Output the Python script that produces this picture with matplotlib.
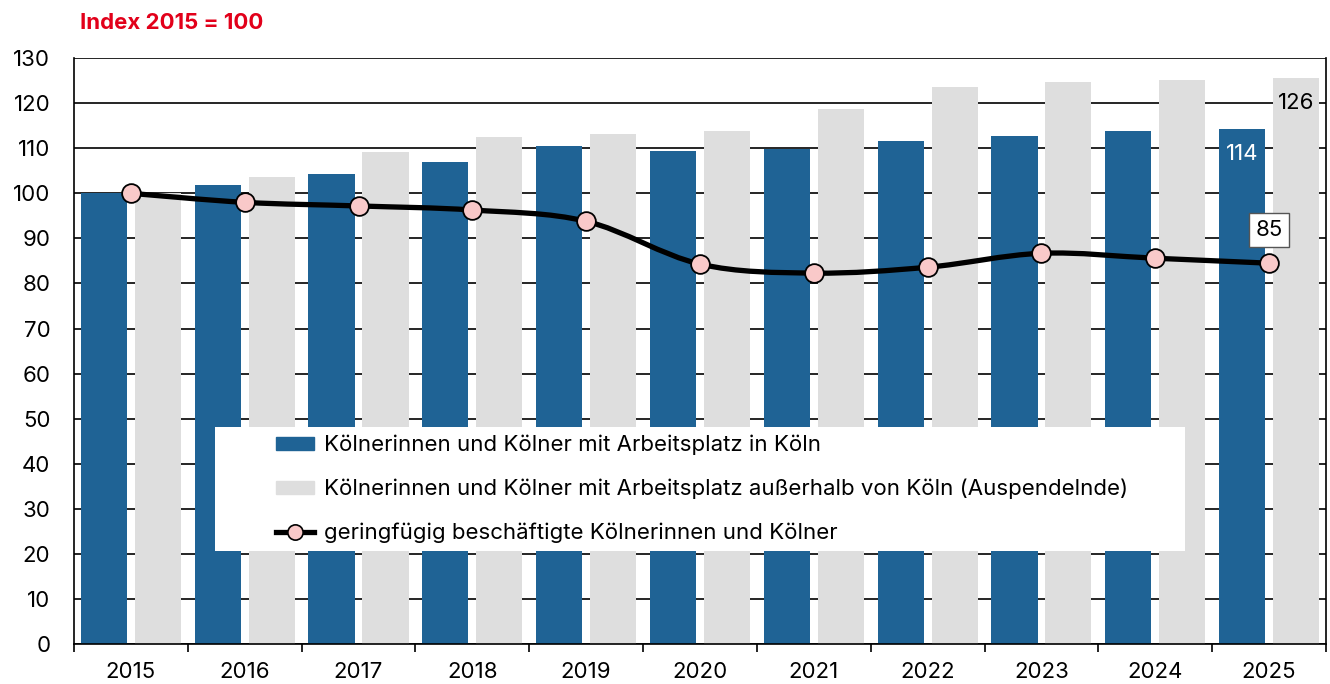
import matplotlib
matplotlib.use("Agg")
import matplotlib.pyplot as plt
import numpy as np
from matplotlib.path import Path
from matplotlib.patches import PathPatch, Rectangle
from matplotlib.lines import Line2D

# data
years = ["2015", "2016", "2017", "2018", "2019", "2020", "2021", "2022", "2023", "2024", "2025"]
in_koeln = [100, 101.8, 104.3, 106.9, 110.5, 109.4, 109.8, 111.6, 112.7, 113.8, 114.2]
auspendler = [100, 103.6, 109.1, 112.5, 113.1, 113.8, 118.7, 123.6, 124.7, 125.1, 125.6]
geringfuegig = [100, 98.0, 97.2, 96.3, 93.8, 84.3, 82.3, 83.6, 86.7, 85.6, 84.5]
labels = ["Kölnerinnen und Kölner mit Arbeitsplatz in Köln",
          "Kölnerinnen und Kölner mit Arbeitsplatz außerhalb von Köln (Auspendelnde)",
          "geringfügig beschäftigte Kölnerinnen und Kölner"]

BLUE = "#1f6395"
GREY = "#dedede"
PINK = "#f9c9c9"
RED = "#e2001a"
FS = 16

plt.rcParams['font.family'] = ['Inter', 'DejaVu Sans']

fig = plt.figure(figsize=(13.3, 6.84), dpi=100)
ax = fig.add_axes([0.0556, 0.0585, 0.9414, 0.8565])

x = np.arange(len(years))
w = 0.405
off = 0.237
ax.bar(x - off, in_koeln, width=w, color=BLUE, zorder=2)
ax.bar(x + off, auspendler, width=w, color=GREY, zorder=2)

# smoothed line (cubic bezier through the data points)
y = np.array(geringfuegig, dtype=float)
pts = np.column_stack([x, y])
verts = [tuple(pts[0])]
codes = [Path.MOVETO]
n = len(pts)
for i in range(n - 1):
    p0 = pts[max(i - 1, 0)]
    p1 = pts[i]
    p2 = pts[i + 1]
    p3 = pts[min(i + 2, n - 1)]
    c1 = p1 + (p2 - p0) / 6.0
    c2 = p2 - (p3 - p1) / 6.0
    verts += [tuple(c1), tuple(c2), tuple(p2)]
    codes += [Path.CURVE4] * 3
ax.add_patch(PathPatch(Path(verts, codes), facecolor="none", edgecolor="black",
                       lw=3.8, zorder=5, capstyle="round", joinstyle="round"))
ax.plot(x, y, linestyle="none", marker="o", ms=13.5, mfc=PINK, mec="black",
        mew=1.3, zorder=6)

ax.set_ylim(0, 130)
ax.set_xlim(-0.5, len(years) - 0.5)
ax.set_yticks(np.arange(0, 131, 10))
ax.yaxis.grid(True, color="black", lw=1.2, zorder=1)
ax.set_axisbelow(True)
ax.tick_params(axis="y", length=0, pad=17, labelsize=FS)

ax.set_xticks(np.arange(-0.5, len(years), 1.0))
ax.set_xticklabels([])
ax.set_xticks(x, minor=True)
ax.set_xticklabels(years, minor=True)
ax.tick_params(axis="x", which="major", length=6, width=1.2, color="black")
ax.tick_params(axis="x", which="minor", length=0, pad=13, labelsize=FS)
for s in ax.spines.values():
    s.set_linewidth(1.2)
ax.spines["top"].set_visible(False)

# value labels
ax.annotate("114", (x[-1] - off, in_koeln[-1]), xytext=(0, -18), textcoords="offset points",
            ha="center", va="center", color="white", fontsize=FS, zorder=7)
ax.annotate("126", (x[-1] + off, auspendler[-1]), xytext=(0, -18), textcoords="offset points",
            ha="center", va="center", color="black", fontsize=FS, zorder=7)
ax.annotate("85", (x[-1], geringfuegig[-1]), xytext=(0, 24), textcoords="offset points",
            ha="center", va="center", color="black", fontsize=FS, zorder=7,
            bbox=dict(boxstyle="square,pad=0.3", fc="white", ec="#555555", lw=1))

# legend with white background block
ax.add_patch(Rectangle((0.1126, 0.159), 0.775, 0.211, transform=ax.transAxes,
                       facecolor="white", edgecolor="none", zorder=8))
handles = [Rectangle((0, 0), 1, 1, color=BLUE),
           Rectangle((0, 0), 1, 1, color=GREY),
           Line2D([], [], color="black", lw=3.8, marker="o", ms=11, mfc=PINK, mec="black", mew=1.2)]
leg = ax.legend(handles, labels, loc="upper left", bbox_to_anchor=(0.161, 0.357),
                frameon=False, fontsize=FS, handlelength=1.75, handleheight=0.5,
                handletextpad=0.45, labelspacing=1.05, borderpad=0, borderaxespad=0)
leg.set_zorder(9)

fig.text(0.060, 0.966, "Index 2015 = 100", color=RED, fontsize=FS, fontweight="bold",
         ha="left", va="center")

fig.savefig("out.png", dpi=100)
